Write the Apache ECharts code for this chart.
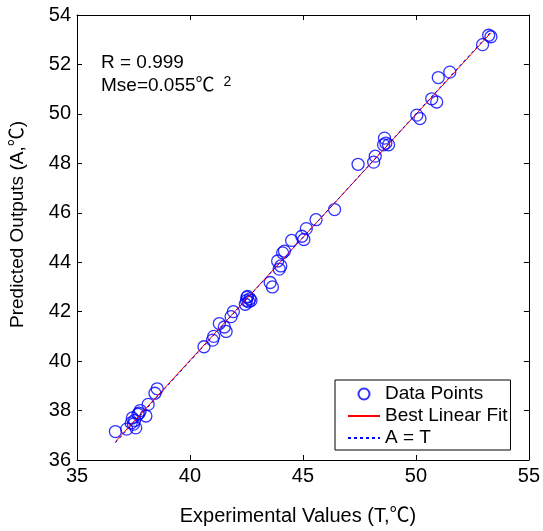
<!DOCTYPE html>
<html>
<head>
<meta charset="utf-8">
<script src="https://cdn.jsdelivr.net/npm/echarts@6/dist/echarts.min.js"></script>
<style>
html,body{margin:0;padding:0;background:#fff;}
#chart{width:543px;height:531px;}
</style>
</head>
<body>
<div id="chart"></div>
<script>
// Experimental values (T, ℃)
var experimental = [
  36.70, 37.20, 37.45, 37.50, 37.60, 37.55, 37.80, 37.70, 38.05, 38.15, 38.45, 38.55, 37.40, 37.75,
  40.62, 41.00, 41.05, 41.30, 41.52, 41.60, 41.82, 41.92,
  42.45, 42.50, 42.55, 42.60, 42.65, 42.52, 42.70,
  43.55, 43.65, 43.88, 43.95, 44.02, 44.10, 44.18, 44.50,
  44.95, 45.04, 45.15, 45.58, 46.40,
  47.44, 48.13, 48.20, 48.61, 48.67, 48.57, 48.79,
  50.04, 50.18, 50.70, 50.92, 50.99, 51.50,
  52.95, 53.22, 53.32
];
// Predicted outputs (A, ℃)
var predicted = [
  37.15, 37.25, 37.70, 37.45, 37.30, 37.60, 38.00, 37.85, 37.78, 38.25, 38.70, 38.88, 37.50, 37.90,
  40.58, 40.85, 41.00, 41.52, 41.38, 41.20, 41.80, 42.00,
  42.30, 42.45, 42.62, 42.40, 42.52, 42.58, 42.45,
  43.18, 43.00, 44.05, 43.72, 43.85, 44.38, 44.45, 44.88,
  45.05, 44.92, 45.36, 45.72, 46.13,
  47.96, 48.05, 48.29, 49.02, 48.82, 48.75, 48.75,
  49.95, 49.81, 50.61, 50.48, 51.47, 51.69,
  52.80, 53.18, 53.12
];
var xTicks = [35, 40, 45, 50, 55];
var yTicks = [36, 38, 40, 42, 44, 46, 48, 50, 52, 54];
var seriesNames = ['Data Points', 'Best Linear Fit', 'A = T'];
var statR = '0.999';
var statMse = '0.055';

var points = experimental.map(function (t, i) { return [t, predicted[i]]; });
var n = experimental.length, sx = 0, sy = 0, sxx = 0, sxy = 0;
for (var i = 0; i < n; i++) {
  sx += experimental[i]; sy += predicted[i];
  sxx += experimental[i] * experimental[i]; sxy += experimental[i] * predicted[i];
}
var slope = (n * sxy - sx * sy) / (n * sxx - sx * sx);
var intercept = (sy - slope * sx) / n;
var tMin = Math.min.apply(null, experimental), tMax = Math.max.apply(null, experimental);
var fitLine = [[tMin, slope * tMin + intercept], [tMax, slope * tMax + intercept]];
var idLine = [[tMin, tMin], [tMax, tMax]];

var FONT = '"Liberation Sans", Arial, "Noto Sans CJK SC", sans-serif';
var axisCommon = {
  type: 'value',
  axisLine: { show: true, lineStyle: { color: '#000', width: 1 } },
  axisTick: { show: true, inside: true, length: 5, lineStyle: { color: '#000' } },
  splitLine: { show: false }
};
function xAx(pos, labels) {
  return Object.assign({}, axisCommon, {
    position: pos, min: xTicks[0], max: xTicks[xTicks.length - 1], interval: 5,
    axisLabel: { show: labels, color: '#000', fontSize: 20, fontFamily: FONT, margin: 6 },
    name: labels ? 'Experimental Values (T,\u2103)' : '',
    nameLocation: 'middle', nameGap: 46,
    nameTextStyle: { color: '#000', fontSize: 20, fontFamily: FONT, padding: [0, 10, 0, 0] }
  });
}
function yAx(pos, labels) {
  return Object.assign({}, axisCommon, {
    position: pos, min: yTicks[0], max: yTicks[yTicks.length - 1], interval: 2,
    axisLabel: { show: labels, color: '#000', fontSize: 20, fontFamily: FONT, margin: 6 },
    name: labels ? 'Predicted Outputs (A,\u2103)' : '',
    nameLocation: 'middle', nameGap: 50,
    nameTextStyle: { color: '#000', fontSize: 19, fontFamily: FONT, padding: [0, 0, 0, 26] }
  });
}

var chart = echarts.init(document.getElementById('chart'), null, { renderer: 'canvas' });
chart.setOption({
  animation: false,
  backgroundColor: '#fff',
  grid: { left: 77, right: 12, top: 15, bottom: 63 },
  xAxis: [xAx('bottom', true), xAx('top', false)],
  yAxis: [yAx('left', true), yAx('right', false)],
  legend: {
    orient: 'vertical', left: 335, top: 380,
    backgroundColor: '#fff', borderColor: '#000', borderWidth: 1, borderRadius: 0,
    padding: [4, 3, 2, 12],
    itemWidth: 32, itemHeight: 11, itemGap: 2,
    textStyle: { color: '#000', fontSize: 19, fontFamily: FONT, lineHeight: 20 },
    data: [
      { name: seriesNames[0] },
      { name: seriesNames[1], itemStyle: { color: 'rgba(0,0,0,0)', borderWidth: 0, opacity: 0 } },
      { name: seriesNames[2], itemStyle: { color: 'rgba(0,0,0,0)', borderWidth: 0, opacity: 0 } }
    ]
  },
  graphic: [
    { type: 'text', left: 101, top: 53, style: { text: 'R = ' + statR, fill: '#000', font: '19px ' + FONT } },
    { type: 'text', left: 101, top: 75, style: {
        text: '{a|Mse=' + statMse + '\u2103}{s|2}',
        rich: {
          a: { fill: '#000', fontSize: 19, fontFamily: FONT },
          s: { fill: '#000', fontSize: 14, fontFamily: FONT, padding: [0, 0, 8, 9] }
        }
      } }
  ],
  series: [
    {
      name: seriesNames[0], type: 'scatter', data: points,
      symbol: 'circle', symbolSize: 12,
      itemStyle: { color: 'rgba(0,0,0,0)', borderColor: '#0000ff', borderWidth: 1.3 }
    },
    {
      name: seriesNames[1], type: 'line', data: fitLine, symbol: 'none',
      lineStyle: { color: '#ff0000', width: 1 }, itemStyle: { color: '#ff0000' }
    },
    {
      name: seriesNames[2], type: 'line', data: idLine, symbol: 'none',
      lineStyle: { color: '#0000ff', width: 1, type: [3, 3] }, itemStyle: { color: '#0000ff' }
    }
  ]
});
</script>
</body>
</html>
